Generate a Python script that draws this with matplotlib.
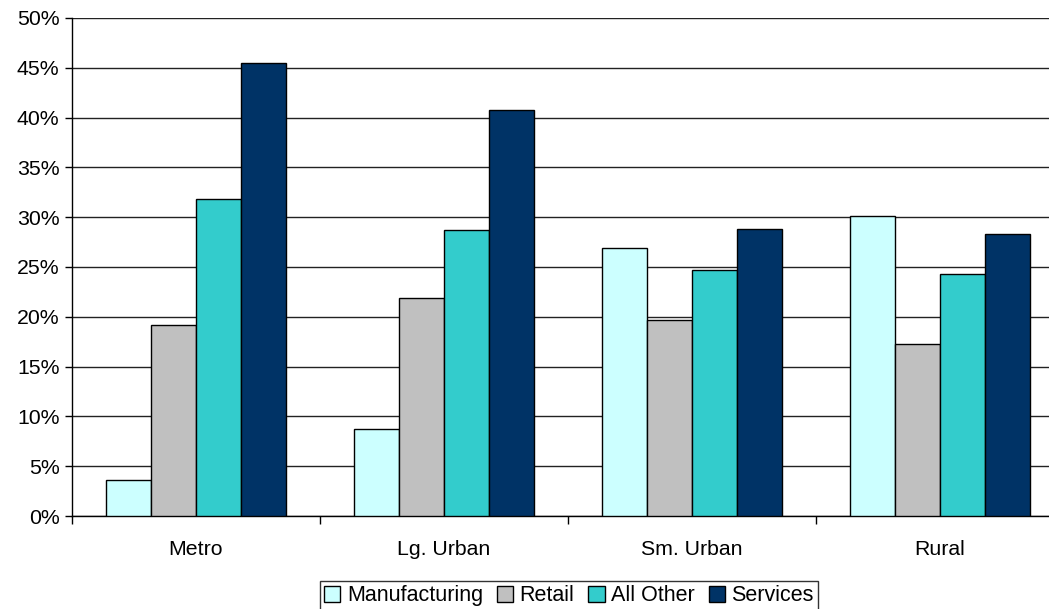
import matplotlib.pyplot as plt
import numpy as np

plt.rcParams['font.family'] = ['Liberation Sans', 'DejaVu Sans']

categories = ["Metro", "Lg. Urban", "Sm. Urban", "Rural"]
series = ["Manufacturing", "Retail", "All Other", "Services"]
manufacturing = [3.6, 8.7, 26.9, 30.1]
retail = [19.2, 21.9, 19.7, 17.3]
all_other = [31.8, 28.7, 24.7, 24.3]
services = [45.5, 40.8, 28.8, 28.3]
colors = ["#CCFFFF", "#C0C0C0", "#33CCCC", "#003366"]

values = [manufacturing, retail, all_other, services]

W, H = 1049, 609
fig = plt.figure(figsize=(W / 100, H / 100), dpi=100)
left, right, top, bottom = 72, 1064, 18, 516
ax = fig.add_axes([left / W, 1 - bottom / H, (right - left) / W, (bottom - top) / H])

x = np.arange(len(categories))
bw = 0.181
for i, (name, vals) in enumerate(zip(series, values)):
    ax.bar(x + (i - 1.5) * bw, vals, bw, color=colors[i], edgecolor="black",
           linewidth=1, label=name, zorder=3)

ax.set_xlim(-0.5, 3.5)
ax.set_ylim(0, 50)
ax.set_yticks(np.arange(0, 51, 5))
ax.set_yticklabels([f"{v}%" for v in range(0, 51, 5)], fontsize=15.3)
ax.yaxis.grid(True, color="#222222", linewidth=1, zorder=0)
ax.tick_params(axis="y", length=5, width=1, direction="out", pad=4)

ax.set_xticks(np.arange(-0.5, 3.6, 1))
ax.set_xticklabels([])
ax.set_xticks(x, minor=True)
ax.set_xticklabels(categories, minor=True, fontsize=15.3)
ax.tick_params(axis="x", which="major", length=6, width=1, direction="out")
ax.tick_params(axis="x", which="minor", length=0, pad=17)

for s in ["top", "right"]:
    ax.spines[s].set_visible(False)
for s in ["left", "bottom"]:
    ax.spines[s].set_color("black")
    ax.spines[s].set_linewidth(1)

leg = fig.legend(loc="upper center", bbox_to_anchor=(569 / W, 1 - 581 / H), ncol=4,
                 fontsize=15.5, frameon=True, fancybox=False, shadow=False,
                 handlelength=0.75, handleheight=0.75, handletextpad=0.3,
                 columnspacing=0.65, borderpad=0.2, borderaxespad=0)
leg.get_frame().set_edgecolor("black")
leg.get_frame().set_linewidth(1)

fig.savefig("out.png", dpi=100)
